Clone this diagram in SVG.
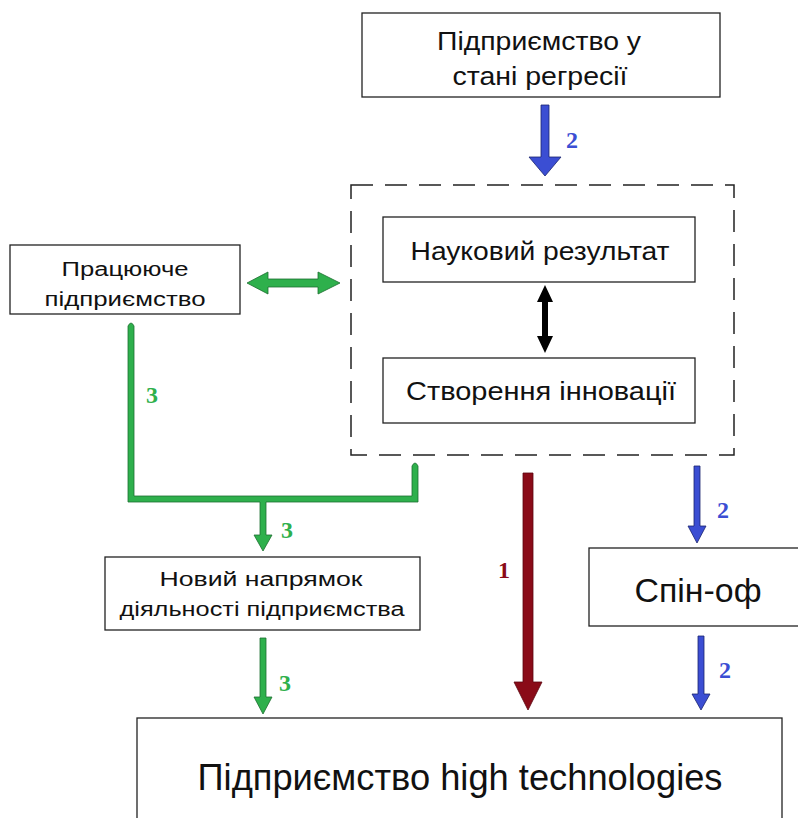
<svg xmlns="http://www.w3.org/2000/svg" width="798" height="818" viewBox="0 0 798 818">
<style>
.box{fill:#fff;stroke:#222;stroke-width:1.3}
.t{font-family:"Liberation Sans",Arial,sans-serif;fill:#111;text-anchor:middle}
.n{font-family:"Liberation Serif","Times New Roman",serif;font-weight:bold;font-size:24px}
.g{fill:#2eb04c;stroke:#1d6e30;stroke-width:0.8}
.b{fill:#3b4ed3;stroke:#1a2470;stroke-width:0.8}
.r{fill:#8a0b18;stroke:#5a0610;stroke-width:0.8}
</style>
<rect width="798" height="818" fill="#fff"/>
<g id="connectors">
  <path class="b" d="M541,105 H549 V157 H561 L545,176 L529,157 H541 Z"/>
  <path fill="#000" d="M545,285 L553,302 H548 V336 H553 L545,353 L537,336 H542 V302 H537 Z"/>
  <path class="g" d="M247,283 L268,272 V279 H318 V272 L340,283 L318,294 V287 H268 V294 Z"/>
  <path class="g" d="M128,326 Q131,320 134,326 V496 H412 V466 Q415,460 418,466 V502 H266 V535 H272 L263,551 L254,535 H260 V502 H128 Z"/>
  <path class="g" d="M260,638 H266 V697 H272 L263,714 L254,697 H260 Z"/>
  <path class="r" d="M523,473 H533 V682 H542 L528,710 L514,682 H523 Z"/>
  <path class="b" d="M694,466 H700 V526 H706 L697,543 L688,526 H694 Z"/>
  <path class="b" d="M698,636 H704 V694 H710 L701,710 L692,694 H698 Z"/>
  <text class="n" x="572" y="148" fill="#3b4ed3" text-anchor="middle">2</text>
  <text class="n" x="152" y="403" fill="#2eb04c" text-anchor="middle">3</text>
  <text class="n" x="287" y="538" fill="#2eb04c" text-anchor="middle">3</text>
  <text class="n" x="285" y="691" fill="#2eb04c" text-anchor="middle">3</text>
  <text class="n" x="504" y="578" fill="#8a0b18" text-anchor="middle">1</text>
  <text class="n" x="723" y="518" fill="#3b4ed3" text-anchor="middle">2</text>
  <text class="n" x="725" y="678" fill="#3b4ed3" text-anchor="middle">2</text>
</g>
<g id="n-regression">
  <rect class="box" x="362" y="13" width="358" height="84"/>
  <text class="t" x="539" y="50" font-size="25" textLength="204" lengthAdjust="spacingAndGlyphs">Підприємство у</text>
  <text class="t" x="540" y="85" font-size="25" textLength="175" lengthAdjust="spacingAndGlyphs">стані регресії</text>
</g>
<g id="n-group">
  <rect x="351" y="185" width="383" height="270" fill="none" stroke="#222" stroke-width="1.5" stroke-dasharray="22,12"/>
</g>
<g id="n-science">
  <rect class="box" x="383" y="217" width="312" height="65"/>
  <text class="t" x="540" y="260" font-size="25" textLength="259" lengthAdjust="spacingAndGlyphs">Науковий результат</text>
</g>
<g id="n-innovation">
  <rect class="box" x="383" y="358" width="312" height="65"/>
  <text class="t" x="541" y="400" font-size="25" textLength="270" lengthAdjust="spacingAndGlyphs">Створення інновації</text>
</g>
<g id="n-working">
  <rect class="box" x="10" y="245" width="230" height="69"/>
  <text class="t" x="125" y="276" font-size="20" textLength="127" lengthAdjust="spacingAndGlyphs">Працююче</text>
  <text class="t" x="125" y="306" font-size="20" textLength="161" lengthAdjust="spacingAndGlyphs">підприємство</text>
</g>
<g id="n-newdir">
  <rect class="box" x="105" y="557" width="315" height="73"/>
  <text class="t" x="261" y="586" font-size="20" textLength="203" lengthAdjust="spacingAndGlyphs">Новий напрямок</text>
  <text class="t" x="262" y="616" font-size="20" textLength="285" lengthAdjust="spacingAndGlyphs">діяльності підприємства</text>
</g>
<g id="n-spinoff">
  <rect class="box" x="589" y="548" width="215" height="78"/>
  <text class="t" x="698" y="602" font-size="34" textLength="127" lengthAdjust="spacingAndGlyphs">Спін-оф</text>
</g>
<g id="n-hightech">
  <rect class="box" x="137" y="718" width="645" height="120"/>
  <text class="t" x="460" y="790" font-size="37" textLength="525" lengthAdjust="spacingAndGlyphs">Підприємство high technologies</text>
</g>
</svg>
